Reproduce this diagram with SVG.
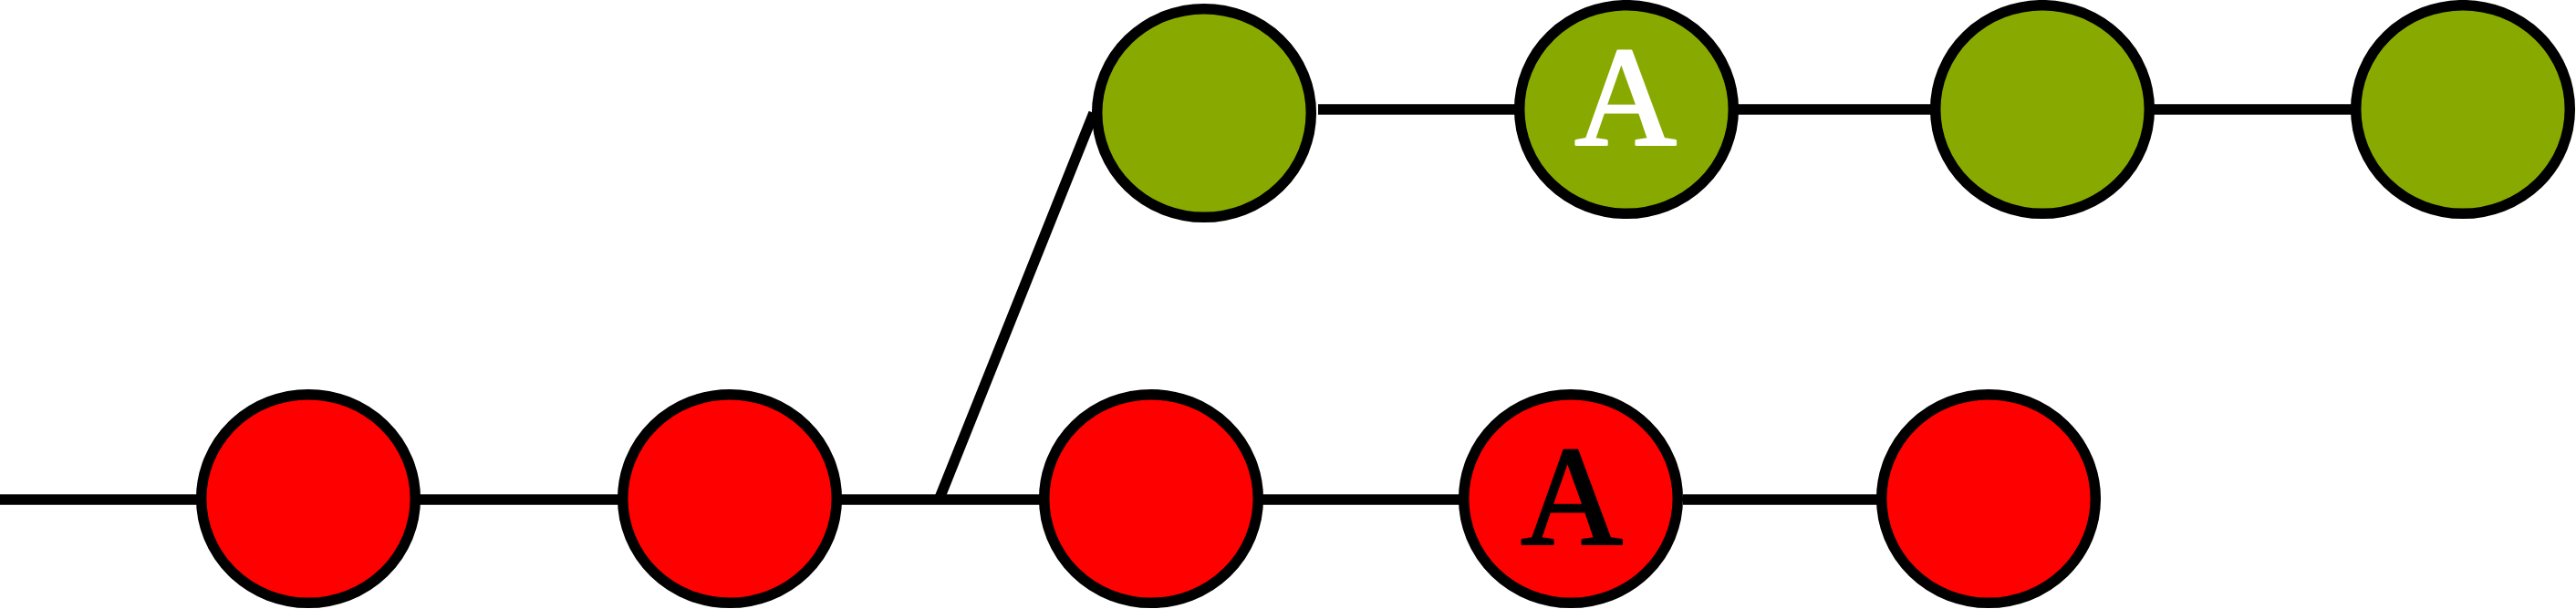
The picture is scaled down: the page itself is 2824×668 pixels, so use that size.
<svg xmlns="http://www.w3.org/2000/svg" width="2824" height="668" viewBox="0 0 2824 668">
<style>
.node{stroke:#000;stroke-width:11.5}
.red{fill:#ff0000}
.green{fill:#88aa00}
.edge{stroke:#000;stroke-width:11.5;fill:none}
.lbl{font-family:"Liberation Serif","Times New Roman",serif;font-size:154px;text-anchor:middle;stroke-width:3;stroke-linejoin:round}
</style>
<rect width="2824" height="668" fill="#fff"/>
<g id="connectors">
<line class="edge" x1="0" y1="548" x2="216" y2="548"/>
<line class="edge" x1="460" y1="548" x2="678" y2="548"/>
<line class="edge" x1="922" y1="548" x2="1140" y2="548"/>
<line class="edge" x1="1384" y1="548" x2="1600" y2="548"/>
<line class="edge" x1="1845" y1="548" x2="2058" y2="548"/>
<line class="edge" x1="1029" y1="549" x2="1199" y2="124"/>
<line class="edge" x1="1445" y1="120" x2="1661" y2="120"/>
<line class="edge" x1="1905" y1="120" x2="2117" y2="120"/>
<line class="edge" x1="2361" y1="120" x2="2578" y2="120"/>
</g>
<g id="r1"><ellipse class="node red" cx="338" cy="547" rx="117.3" ry="114.3"/></g>
<g id="r2"><ellipse class="node red" cx="800" cy="547" rx="117.3" ry="114.3"/></g>
<g id="r3"><ellipse class="node red" cx="1262" cy="547" rx="117.3" ry="114.3"/></g>
<g id="r4"><ellipse class="node red" cx="1722" cy="547" rx="117.3" ry="114.3"/><text class="lbl" x="1723" y="596" fill="#000" stroke="#000">A</text></g>
<g id="r5"><ellipse class="node red" cx="2180" cy="547" rx="117.3" ry="114.3"/></g>
<g id="g1"><ellipse class="node green" cx="1320" cy="124" rx="117.3" ry="114.3"/></g>
<g id="g2"><ellipse class="node green" cx="1783" cy="120" rx="117.3" ry="114.3"/><text class="lbl" x="1782" y="158" fill="#fff" stroke="#fff">A</text></g>
<g id="g3"><ellipse class="node green" cx="2239" cy="120" rx="117.3" ry="114.3"/></g>
<g id="g4"><ellipse class="node green" cx="2700" cy="120" rx="117.3" ry="114.3"/></g>
</svg>
